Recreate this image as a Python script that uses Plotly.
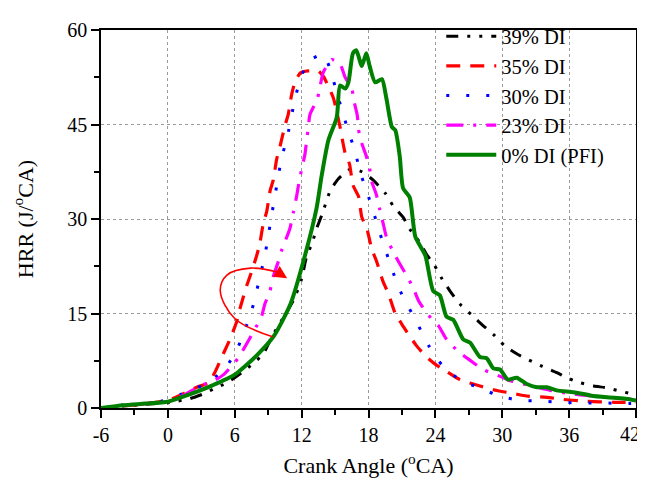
import plotly.graph_objects as go

# ---- data (crank angle in deg CA, heat release rate in J/deg CA) ----
x_39 = [-6, -4, -2, 0, 0.6, 2.0, 3.2, 4.07, 5.3, 6.6, 7.67, 8.56, 9.3, 10.3, 11.3, 12.0, 12.4, 13.0,
        13.35, 13.85, 14.55, 15.3, 16.35, 17.4, 18.4, 19.5, 20.2, 21.1, 21.7, 22.6, 23.2, 23.9, 24.6,
        25.3, 26.2, 27.3, 28.2, 29.2, 30.2, 31.3, 32.4, 33.6, 34.9, 35.8, 37.0, 38.2, 39.4, 40.4, 41.6, 42]
y_39 = [0, 0.3, 0.6, 0.85, 1.0, 1.5, 2.25, 3.0, 4.0, 5.6, 7.1, 8.6, 11.2, 14.2, 17.2, 20.5, 23.7, 26.5,
        28.5, 30.8, 34.4, 36.4, 37.9, 37.5, 36.2, 34.1, 32.1, 30.3, 28.4, 26.3, 24.4, 22.7, 20.5,
        18.6, 16.5, 14.7, 13.2, 11.7, 9.9, 8.6, 7.6, 6.6, 5.6, 4.8, 4.0, 3.5, 3.2, 2.75, 2.25, 2.1]

x_35 = [-6, -4, -2, 0, 1.3, 2.6, 3.63, 4.2, 4.97, 5.57, 6.17, 6.47, 7.07, 7.37, 7.97, 8.26, 8.56, 8.87,
        9.16, 9.46, 9.76, 10.06, 10.5, 10.8, 11.1, 11.4, 11.9, 12.6, 13.5, 14.0, 14.4, 14.85, 15.4, 15.9,
        16.3, 16.6, 17.1, 17.4, 17.85, 18.3, 18.7, 19.3, 19.8, 20.4, 21.1, 22.3, 23.2, 24.1, 25, 26.2,
        28, 29.2, 31, 32.2, 34, 35.2, 37.3, 40.1, 42]
y_35 = [0, 0.3, 0.7, 1.2, 2.2, 3.3, 4.0, 5.6, 8.6, 10.9, 13.7, 15.8, 19.4, 20.9, 24.2, 26.2, 29.3, 31.2,
        34.4, 36.2, 39.5, 41.5, 44.8, 46.6, 49.7, 51.7, 53.2, 53.5, 53.5, 52.5, 51.0, 49.2, 45.0, 40.5,
        38.7, 35.4, 33.6, 30.3, 28.5, 25.2, 23.4, 20.1, 18.1, 15.0, 13.0, 9.9, 8.1, 6.8, 5.8, 4.5,
        3.5, 2.9, 2.3, 1.9, 1.7, 1.4, 1.1, 0.9, 0.9]

x_30 = [-6, -4.1, -2, -0.6, 1.2, 3.1, 4.9, 6.1, 6.8, 7.45, 7.9, 8.3, 8.7, 9.0, 9.3, 9.6, 9.9, 10.2,
        10.66, 11.4, 11.85, 12.6, 13.95, 14.7, 15.15, 15.7, 16.2, 16.8, 17.2, 17.8, 18.4, 18.9, 19.5,
        20.1, 20.7, 21.6, 22.5, 23.4, 24.6, 26.2, 28.2, 29.9, 31.7, 33.5, 35.3, 37.3, 39.1, 40.9, 42]
y_30 = [0, 0.46, 0.75, 1.07, 2.2, 3.6, 5.8, 8.9, 11.9, 15.0, 18.1, 21.1, 24.2, 27.2, 30.5, 33.6, 36.7, 39.7,
        42.6, 49.0, 52.0, 55.0, 56.1, 53.0, 50.0, 46.9, 43.8, 40.8, 37.7, 34.6, 31.4, 28.4, 25.2,
        22.1, 19.1, 16.0, 13.0, 9.9, 6.8, 4.5, 3.0, 1.8, 1.2, 1.1, 0.9, 0.8, 0.8, 0.7, 0.7]

x_23 = [-6, -4, -2, 0, 1.5, 2.9, 4.1, 5.0, 6.3, 7.07, 7.7, 8.4, 8.7, 9.16, 9.46, 9.9, 10.2, 10.95,
        11.25, 11.55, 11.75, 12.0, 12.3, 12.45, 12.6, 12.75, 13.4, 13.65, 13.95, 14.7, 15.4, 15.9, 16.5,
        16.7, 17.0, 17.1, 17.4, 17.8, 18.1, 18.3, 18.7, 19.0, 19.3, 19.6, 20.1, 20.7, 21.4, 22.0, 22.5,
        23.4, 24.3, 25, 26.1, 27.1, 28.3, 29.7, 30.8, 31.9, 33.1, 34.3, 36, 38, 40, 42]
y_23 = [0, 0.35, 0.7, 1.0, 2.1, 3.5, 4.3, 5.3, 7.9, 10.2, 12.2, 14.5, 16.5, 18.6, 20.9, 23.2, 25.0, 28.5,
        31.0, 33.6, 35.7, 37.9, 40.3, 42.5, 44.6, 46.6, 49.0, 51.0, 53.3, 55.3, 54.8, 52.5, 50.7,
        48.7, 46.4, 44.2, 42.0, 40.0, 38.0, 35.9, 33.9, 31.6, 29.4, 27.2, 25.2, 23.2, 21.1, 19.1, 17.0,
        14.7, 13.0, 10.9, 8.9, 7.6, 6.1, 5.1, 4.3, 3.8, 3.3, 2.8, 2.3, 1.9, 1.6, 1.3]

x_0 = [-6, -4, -2, 0, 2, 4, 6, 8, 9.5, 11, 12.3, 13.35, 13.8, 14.4, 15.15, 15.45, 15.9, 16.2, 16.6,
       16.9, 17.4, 17.8, 18.1, 18.6, 19.2, 19.6, 20.1, 20.4, 20.8, 21.1, 21.7, 22.2, 23.1, 23.8,
       24.4, 25.0, 25.6, 26.5, 27.1, 28.0, 28.6, 29.2, 29.8, 30.5, 31.3, 32.2, 33.1, 34.0, 34.9,
       36.4, 37.9, 39.4, 40.9, 42]
y_0 = [0, 0.45, 0.7, 1.0, 2.2, 3.6, 5.3, 8.4, 11.4, 16.5, 24.2, 31.8, 36.9, 42.5, 46.1, 51.2, 50.7, 51.7, 56.3,
       56.8, 54.3, 56.3, 54.3, 51.7, 52.2, 49.2, 44.6, 44.1, 40.0, 34.9, 33.4, 27.2, 24.2, 18.6,
       17.9, 14.5, 14.0, 10.9, 10.4, 8.1, 7.9, 6.3, 6.1, 4.5, 4.8, 3.8, 3.3, 3.3, 2.8,
       2.5, 2.0, 1.7, 1.5, 1.2]

series_names = ["39% DI", "35% DI", "30% DI", "23% DI", "0% DI (PFI)"]

# curved arrow annotation path
arrow_x = [9.4, 6.0, 4.7, 5.3, 7.4, 9.8]
arrow_y = [11.3, 14.2, 18.6, 21.1, 22.2, 21.6]
arrow_tip = (10.7, 20.6)

x_ticks = [-6, 0, 6, 12, 18, 24, 30, 36, 42]
x_ticktext = ["-6", "0", "6", "12", "18", "24", "30", "36", ""]   # last label drawn as annotation (edge)
last_x_label = "42"
y_ticks = [0, 15, 30, 45, 60]

FONT = "Liberation Serif"

fig = go.Figure()
styles = [
    (x_39, y_39, "black", "12px,9px,3px,9px,3px,9px", 3),
    (x_35, y_35, "red", "14px,10px", 3.2),
    (x_30, y_30, "blue", "3px,17px", 3),
    (x_23, y_23, "magenta", "17px,10px,3px,10px", 3.2),
    (x_0, y_0, "green", "solid", 4),
]
for name, (xs, ys, col, dash, w) in zip(series_names, styles):
    fig.add_trace(go.Scatter(x=xs, y=ys, mode="lines", name=name,
                             line=dict(color=col, dash=dash, width=w, shape="spline", smoothing=0.6)))

fig.add_trace(go.Scatter(x=arrow_x, y=arrow_y, mode="lines", showlegend=False, hoverinfo="skip",
                         line=dict(color="red", width=1.6, shape="spline", smoothing=1.0)))
fig.add_annotation(x=arrow_tip[0], y=arrow_tip[1], ax=arrow_x[-1], ay=arrow_y[-1],
                   xref="x", yref="y", axref="x", ayref="y", text="",
                   showarrow=True, arrowhead=2, arrowsize=1.6, arrowwidth=1.6, arrowcolor="red")

# last x tick label, nudged left so it stays inside the page like in the reference
fig.add_annotation(x=x_ticks[-1], y=0, xref="x", yref="y", text=last_x_label, showarrow=False,
                   xanchor="center", yanchor="middle", xshift=-6, yshift=-26, borderpad=0,
                   font=dict(family=FONT, size=20, color="black"))

axis_common = dict(showline=True, linecolor="black", linewidth=1.5, mirror=True,
                   ticks="outside", ticklen=8, tickwidth=1.5, tickcolor="black",
                   showgrid=True, gridcolor="#9a9a9a", griddash="dot", gridwidth=1,
                   zeroline=False, automargin=False, ticklabeloverflow="allow",
                   tickfont=dict(family=FONT, size=20, color="black"))

fig.update_xaxes(range=[-6, 42], tickvals=x_ticks, ticktext=x_ticktext,
                 minor=dict(dtick=3, tick0=0, ticks="outside", ticklen=5, tickcolor="black", tickwidth=1.5,
                            showgrid=False),
                 title=dict(text="Crank Angle (<sup>o</sup>CA)", font=dict(family=FONT, size=22, color="black"),
                            standoff=13),
                 **axis_common)
fig.update_yaxes(range=[0, 60], tickvals=y_ticks, ticktext=[str(v) for v in y_ticks],
                 minor=dict(dtick=7.5, tick0=0, ticks="outside", ticklen=5, tickcolor="black", tickwidth=1.5,
                            showgrid=False),
                 title=dict(text="HRR (J/<sup>o</sup>CA)", font=dict(family=FONT, size=22, color="black"),
                            standoff=28),
                 **axis_common)

# page body has an 8px margin, so the figure is sized/offset to place the plot area as in the reference
fig.update_layout(
    width=637, height=483,
    margin=dict(l=93, r=9, t=8, b=83),
    paper_bgcolor="white", plot_bgcolor="white",
    font=dict(family=FONT, size=20, color="black"),
    showlegend=True,
    legend=dict(x=0.636, y=1.036, xanchor="left", yanchor="top", bgcolor="rgba(0,0,0,0)",
                font=dict(family=FONT, size=20.5, color="black"), itemwidth=50,
                tracegroupgap=0),
)

fig.write_html("out.html")
